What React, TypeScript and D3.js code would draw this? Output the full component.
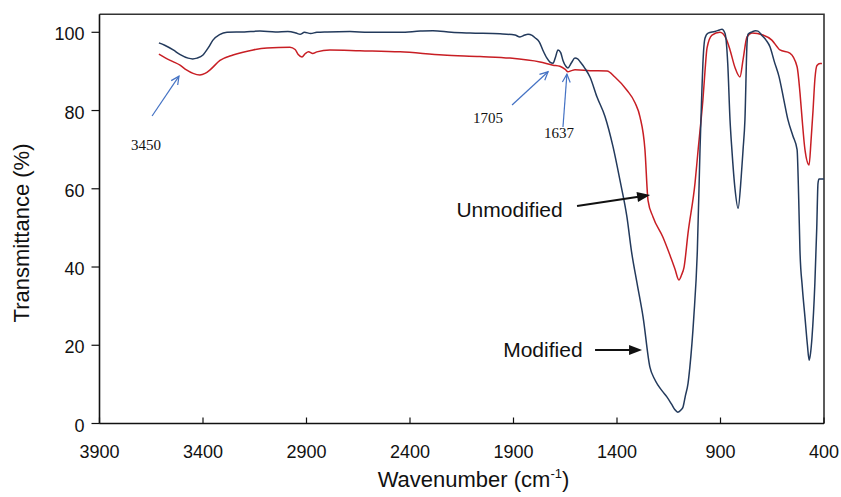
import React from "react";
import * as d3 from "d3";

// ---- data ----
const modifiedWn = [3613,3585,3544,3510,3472,3450,3429,3400,3375,3352,3320,3284,3200,3125,3050,2990,2950,2931,2910,2880,2850,2800,2690,2600,2448,2350,2289,2200,2110,1965,1893,1869,1845,1830,1810,1796,1775,1758,1740,1724,1709,1698,1685,1672,1661,1647,1637,1620,1603,1590,1579,1555,1530,1497,1458,1419,1385,1352,1330,1303,1274,1241,1220,1202,1180,1159,1135,1120,1106,1090,1081,1070,1057,1048,1029,1012,999,990,985,975,960,927,905,893,878,865,854,845,830,815,800,791,782,772,767,748,730,719,700,680,661,640,617,595,574,550,530,522,516,505,492,480,472,465,458,444,435,429,424,400];
const modifiedT = [97.3,96.7,95.5,94.3,93.4,93.2,93.4,94.2,96,98,99.4,100,100.1,100.3,100.1,100.2,99.8,99.5,100,99.7,100,100.1,100.2,100,100,100.3,100.4,100,99.8,99.6,99.3,98.8,99.3,99.5,99.2,98.6,97.5,95.4,93.5,92.4,92.1,93.5,95.5,94.8,92.8,91.3,90.9,92.2,93.4,93.2,92.5,90.8,88.5,83.5,78.5,70.7,62,52.8,44,35.8,27.2,14.4,11.5,9.8,8.2,6.8,4.8,3.5,2.9,3.5,4.2,7,10.2,14.4,27.2,44,70,85,92,98.5,99.8,100.2,100.6,100.8,99.7,92,77.6,70,60,55,63,70,77.6,97,99.5,100.1,100.4,100.3,99.2,98,96.3,92.5,88.6,83,77.6,73.5,70,57,44,35,27.2,20,16.2,18,22,36,50,61.4,62.5,62.5];

const unmodWn = [3613,3580,3545,3511,3480,3448,3415,3390,3366,3318,3255,3158,3091,2980,2955,2940,2922,2905,2890,2870,2850,2787,2642,2448,2240,2062,1917,1772,1709,1676,1650,1637,1620,1603,1530,1448,1409,1352,1313,1289,1265,1250,1226,1178,1144,1120,1101,1088,1076,1057,1023,1008,995,985,975,965,941,903,874,854,830,806,791,772,748,695,652,613,565,530,516,506,492,472,463,453,444,434,419,410];
const unmodT = [94.4,93.4,92.5,91.6,90.4,89.5,89.1,89.5,90.4,92.8,94.2,95.5,96,96.2,95.6,94.3,93.7,94.6,95,94.6,95,95.5,95.3,95,94.2,93.8,93.4,92.4,91.6,91.3,90.5,89.9,90.2,90.4,90.2,90.1,88.5,85.2,82,78.4,70,57,52.8,47.6,43,39.5,36.7,38,40,48.6,61.5,70,77,82.7,90,96,99.3,100,98.5,95.5,91,88.6,93,98.8,99.8,99.3,98,95.5,94.7,91.2,84.5,78,70,66.1,72,80,88,91.5,92,92];

const xTicks = [3900,3400,2900,2400,1900,1400,900,400];
const yTicks = [0,20,40,60,80,100];

const W = 841, H = 497;
const x = d3.scaleLinear().domain([3900, 400]).range([99.5, 824]);
const y = d3.scaleLinear().domain([0, 104.6]).range([423.5, 14.3]);

const line = d3.line<[number, number]>().x(d => x(d[0])).y(d => y(d[1])).curve(d3.curveMonotoneX);
const modPts = modifiedWn.map((w, i) => [w, modifiedT[i]] as [number, number]);
const unmodPts = unmodWn.map((w, i) => [w, unmodT[i]] as [number, number]);

// annotations in data space
const numLabels = [
  { text: "3450", tx: 3675, ty: 71.2, from: [3646, 78.6], to: [3516, 88.8] },
  { text: "1705", tx: 2023, ty: 78.1, from: [1907, 81.4], to: [1733, 89.9] },
  { text: "1637", tx: 1680, ty: 74.3, from: [1661, 75.8], to: [1642, 89.3] },
];
const seriesLabels = [
  { text: "Unmodified", tx: 1919, ty: 54.6, from: [1593, 55.6], to: [1240, 58.4] },
  { text: "Modified", tx: 1758, ty: 18.8, from: [1506, 18.8], to: [1279, 18.8] },
];

function openHead(x1: number, y1: number, x2: number, y2: number, len: number) {
  const a = Math.atan2(y2 - y1, x2 - x1);
  const s = 0.45;
  const p1 = [x2 - len * Math.cos(a - s), y2 - len * Math.sin(a - s)];
  const p2 = [x2 - len * Math.cos(a + s), y2 - len * Math.sin(a + s)];
  return `M${p1[0]},${p1[1]}L${x2},${y2}L${p2[0]},${p2[1]}`;
}
function filledHead(x1: number, y1: number, x2: number, y2: number, len: number, half: number) {
  const a = Math.atan2(y2 - y1, x2 - x1);
  const bx = x2 - len * Math.cos(a), by = y2 - len * Math.sin(a);
  const nx = -Math.sin(a) * half, ny = Math.cos(a) * half;
  return `M${x2},${y2}L${bx + nx},${by + ny}L${bx - nx},${by - ny}Z`;
}

export default function App() {
  const sans = "Arial, 'Liberation Sans', sans-serif";
  const [x0, x1] = x.range();
  const [y0, y1] = y.range();
  return (
    <svg width={W} height={H} style={{ position: "absolute", left: 0, top: 0, background: "#fff" }}>
      {/* frame */}
      <path d={`M${x0},${y1}L${x1},${y1}L${x1},${y0}`} fill="none" stroke="#333" strokeWidth={1.6} />
      {/* curves */}
      <path d={line(unmodPts) || ""} fill="none" stroke="#c81e24" strokeWidth={1.5} />
      <path d={line(modPts) || ""} fill="none" stroke="#233a5c" strokeWidth={1.5} />
      {/* axes */}
      <line x1={x0} x2={x1} y1={y0} y2={y0} stroke="#111" strokeWidth={1.6} />
      <line x1={x0} x2={x0} y1={y0} y2={y1} stroke="#111" strokeWidth={1.6} />
      {xTicks.map(t => (
        <g key={"x" + t}>
          <line x1={x(t)} x2={x(t)} y1={y0} y2={y0 - 6} stroke="#111" strokeWidth={1.2} />
          <text x={x(t)} y={457.5} textAnchor="middle" fontFamily={sans} fontSize={18} fill="#111">{t}</text>
        </g>
      ))}
      {yTicks.map(t => (
        <g key={"y" + t}>
          <line x1={x0 - 8} x2={x0} y1={y(t)} y2={y(t)} stroke="#111" strokeWidth={1.2} />
          <text x={84.5} y={y(t) + 8} textAnchor="end" fontFamily={sans} fontSize={18} fill="#111">{t}</text>
        </g>
      ))}
      {/* axis titles */}
      <text transform="translate(29,233) rotate(-90)" textAnchor="middle" fontFamily={sans} fontSize={22} fill="#111">Transmittance (%)</text>
      <text x={473.5} y={487} textAnchor="middle" fontFamily={sans} fontSize={22} fill="#111">
        Wavenumber (cm<tspan fontSize={13} dy={-9}>-1</tspan><tspan dy={9}>)</tspan>
      </text>
      {/* numeric annotations */}
      {numLabels.map(a => {
        const fx = x(a.from[0]), fy = y(a.from[1]), tx = x(a.to[0]), ty = y(a.to[1]);
        return (
          <g key={a.text}>
            <line x1={fx} y1={fy} x2={tx} y2={ty} stroke="#4472c4" strokeWidth={1.2} />
            <path d={openHead(fx, fy, tx, ty, 9)} fill="none" stroke="#4472c4" strokeWidth={1.2} />
            <text x={x(a.tx)} y={y(a.ty)} dy="0.35em" textAnchor="middle" fontFamily="'Liberation Serif', 'Times New Roman', serif" fontSize={15} fill="#111">{a.text}</text>
          </g>
        );
      })}
      {/* series annotations */}
      {seriesLabels.map(a => {
        const fx = x(a.from[0]), fy = y(a.from[1]), tx = x(a.to[0]), ty = y(a.to[1]);
        const ang = Math.atan2(ty - fy, tx - fx);
        const ex = tx - 10 * Math.cos(ang), ey = ty - 10 * Math.sin(ang);
        return (
          <g key={a.text}>
            <line x1={fx} y1={fy} x2={ex} y2={ey} stroke="#111" strokeWidth={2} />
            <path d={filledHead(fx, fy, tx, ty, 13, 5)} fill="#111" />
            <text x={x(a.tx)} y={y(a.ty)} dy="0.35em" textAnchor="middle" fontFamily={sans} fontSize={21} fill="#111">{a.text}</text>
          </g>
        );
      })}
    </svg>
  );
}
